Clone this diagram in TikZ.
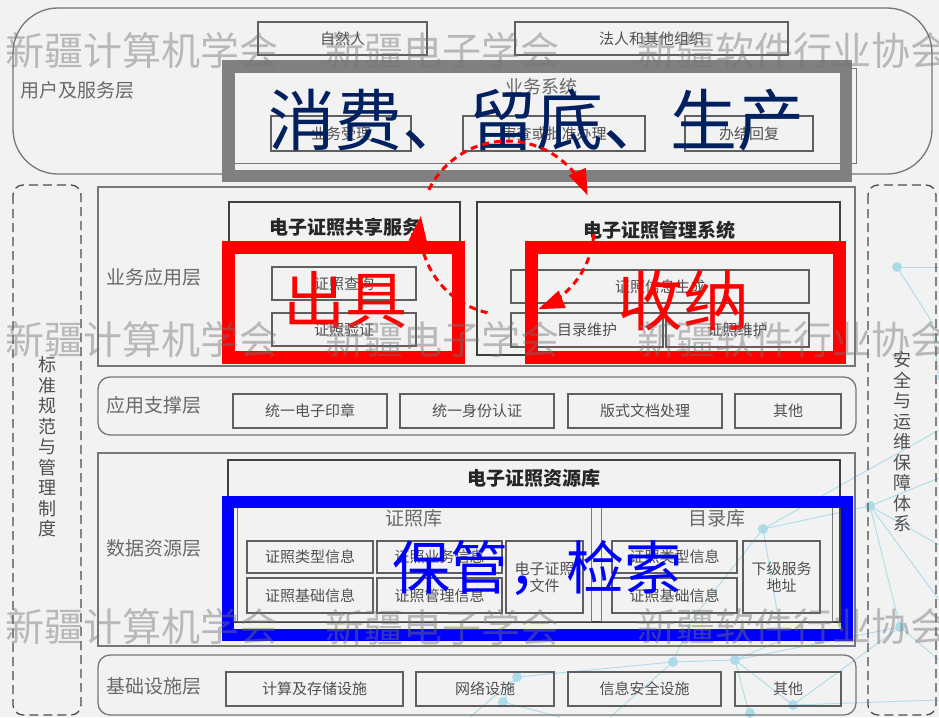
\documentclass[tikz,border=0pt]{standalone}
\usepackage{fontspec}
\setmainfont{Noto Sans CJK SC}
\usetikzlibrary{arrows.meta}
\definecolor{bg}{RGB}{242,242,242}
\definecolor{netc}{RGB}{172,219,233}
\definecolor{navy}{RGB}{0,32,96}
\definecolor{framegray}{RGB}{128,128,128}
\definecolor{boxline}{RGB}{95,95,95}
\definecolor{boxtext}{RGB}{80,80,80}
\definecolor{lbltext}{RGB}{105,105,105}
\tikzset{
  sbox/.style={draw=boxline, line width=1.3pt, inner sep=0pt, text=boxtext, font=\fontsize{15}{17}\selectfont, align=center},
  cont/.style={draw=boxline!85, line width=1.3pt},
  thickbox/.style={draw=black!75, line width=2.6pt},
  lbl/.style={text=lbltext, font=\fontsize{19}{21}\selectfont, anchor=west, inner sep=0pt},
  ttl/.style={text=black!85, font=\fontsize{19}{21}\selectfont\bfseries, inner sep=0pt},
  vlbl/.style={text=boxtext, font=\fontsize{18}{20.5}\selectfont, align=center, inner sep=0pt},
  dashbox/.style={draw=black!70, line width=1.3pt, dash pattern=on 9pt off 5pt, rounded corners=10pt},
  redframe/.style={draw=red, line width=13pt},
  redarrow/.style={draw=red, line width=3pt, dash pattern=on 7pt off 5pt, -{Triangle[length=26pt,width=18pt]}},
  wm/.style={text=black!55, opacity=0.45, font=\fontsize{39}{41}\selectfont, anchor=west, inner sep=0pt},
  netline/.style={draw=netc, line width=0.9pt},
  netdot/.style={fill=netc, draw=none},
}
\begin{document}
\begin{tikzpicture}[x=1pt,y=-1pt]
\useasboundingbox[fill=bg] (0,0) rectangle (939,717);

% faint network background
\foreach \a/\b in {{(897,267)}/{(939,267)}, {(897,267)}/{(932,322)}, {(932,322)}/{(939,380)},
  {(870,506)}/{(763,529)}, {(870,506)}/{(939,478)}, {(870,506)}/{(939,545)}, {(870,506)}/{(939,600)},
  {(763,529)}/{(690,622)}, {(763,529)}/{(782,640)}, {(763,529)}/{(939,430)},
  {(900,627)}/{(870,506)}, {(900,627)}/{(793,705)}, {(900,627)}/{(939,660)}, {(900,627)}/{(735,660)},
  {(735,660)}/{(673,662)}, {(735,660)}/{(793,705)}, {(735,660)}/{(750,717)},
  {(673,662)}/{(517,677)}, {(673,662)}/{(610,717)}, {(517,677)}/{(503,702)}, {(517,677)}/{(470,717)},
  {(503,702)}/{(560,717)}, {(793,705)}/{(939,700)}, {(673,662)}/{(690,622)}, {(782,640)}/{(735,660)}}
  \draw[netline] \a -- \b;
\foreach \p in {(897,267),(870,506),(763,529),(900,627),(735,660),(673,662),(517,677),(503,702),(793,705),(750,713)}
  \fill[netdot] \p circle (5pt);

% user & service layer
\draw[cont, rounded corners=45pt] (13,8) rectangle (932,174);
\node[lbl] (lUser) at (20,90) {用户及服务层};
\node[sbox, minimum width=169pt, minimum height=33pt] (natural) at (342.5,38.5) {自然人};
\node[sbox, minimum width=273pt, minimum height=33pt] (legal) at (651.5,38.5) {法人和其他组织};
\draw[cont, line width=1pt] (232,68) rectangle (856,163);
\node[text=lbltext, font=\fontsize{18}{20}\selectfont, inner sep=0pt] (bizsys) at (541,87) {业务系统};
\node[sbox, minimum width=140pt, minimum height=35pt] (accept) at (341,133.5) {业务受理};
\node[sbox, minimum width=182pt, minimum height=35pt] (review) at (554,133.5) {审查或批准办理};
\node[sbox, minimum width=128pt, minimum height=35pt] (reply) at (749,133.5) {办结回复};
\draw[draw=framegray, line width=12.5pt] (228.5,66.5) rectangle (846,176);

% side dashed boxes
\draw[dashbox] (13,185) rectangle (81,715);
\node[vlbl] (lStd) at (47,447) {标\\准\\规\\范\\与\\管\\理\\制\\度};
\draw[dashbox] (868,185) rectangle (936,715);
\node[vlbl] (lSec) at (902,442) {安\\全\\与\\运\\维\\保\\障\\体\\系};

% business application layer
\draw[cont] (98,187) rectangle (855,366);
\node[lbl] (lApp) at (106,277) {业务应用层};
\draw[thickbox] (229,202) rectangle (460,356);
\node[ttl] (tShare) at (345,227) {电子证照共享服务};
\node[sbox, minimum width=144pt, minimum height=33pt] (query) at (344,283.5) {证照查询};
\node[sbox, minimum width=144pt, minimum height=33pt] (verify) at (344,329.5) {证照验证};
\draw[thickbox] (477,202) rectangle (840,355);
\node[ttl] (tMgmt) at (659,230) {电子证照管理系统};
\node[sbox, minimum width=298pt, minimum height=33pt] (gen) at (660,286.5) {证照信息生成};
\node[sbox, minimum width=152pt, minimum height=34pt] (catm) at (587,330) {目录维护};
\node[sbox, minimum width=143pt, minimum height=34pt] (licm) at (737.5,330) {证照维护};

% application support layer
\draw[cont, rounded corners=12pt] (98,377) rectangle (856,435);
\node[lbl] (lSup) at (106,405) {应用支撑层};
\node[sbox, minimum width=154pt, minimum height=34pt] (seal) at (310,411) {统一电子印章};
\node[sbox, minimum width=154pt, minimum height=34pt] (auth) at (477,411) {统一身份认证};
\node[sbox, minimum width=154pt, minimum height=34pt] (doc) at (645,411) {版式文档处理};
\node[sbox, minimum width=106pt, minimum height=34pt] (other1) at (788,411) {其他};

% data resource layer
\draw[cont] (98,453) rectangle (855,646);
\node[lbl] (lData) at (106,548) {数据资源层};
\draw[thickbox] (228,460) rectangle (840,622);
\node[ttl] (tRes) at (534,478) {电子证照资源库};
\draw[cont, line width=1pt] (237,505) rectangle (591,621);
\draw[cont, line width=1pt] (601,505) rectangle (832,621);
\node[text=lbltext, font=\fontsize{19}{21}\selectfont, inner sep=0pt] (libA) at (414,518) {证照库};
\node[text=lbltext, font=\fontsize{19}{21}\selectfont, inner sep=0pt] (libB) at (717,518) {目录库};
\node[sbox, minimum width=126pt, minimum height=32pt] (d1) at (310,557) {证照类型信息};
\node[sbox, minimum width=125pt, minimum height=32pt] (d2) at (439.5,557) {证照业务信息};
\node[sbox, minimum width=126pt, minimum height=35pt] (d3) at (310,595.5) {证照基础信息};
\node[sbox, minimum width=125pt, minimum height=35pt] (d4) at (439.5,595.5) {证照管理信息};
\node[sbox, minimum width=77pt, minimum height=72pt] (d5) at (544.5,577) {电子证照\\文件};
\node[sbox, minimum width=125pt, minimum height=32pt] (e1) at (674.5,557) {证照类型信息};
\node[sbox, minimum width=125pt, minimum height=35pt] (e2) at (674.5,595.5) {证照基础信息};
\node[sbox, minimum width=77pt, minimum height=72pt] (e3) at (781.5,577) {下级服务\\地址};

% infrastructure layer
\draw[cont, rounded corners=12pt] (98,655) rectangle (856,715);
\node[lbl] (lInf) at (106,686) {基础设施层};
\node[sbox, minimum width=177pt, minimum height=34pt] (comp) at (314.5,689) {计算及存储设施};
\node[sbox, minimum width=138pt, minimum height=34pt] (net) at (485,689) {网络设施};
\node[sbox, minimum width=153pt, minimum height=34pt] (isec) at (644.5,689) {信息安全设施};
\node[sbox, minimum width=106pt, minimum height=34pt] (other2) at (788,689) {其他};

% highlight frames
\draw[redframe] (228.5,247) rectangle (458.5,357);
\draw[redframe] (531,247) rectangle (839,357);
\draw[draw=blue, line width=12pt] (228,502) rectangle (847,635);

% big texts
\node[text=navy, font=\fontsize{67}{70}\selectfont, inner sep=0pt] (bigTop) at (536.5,120) {消费、留底、生产};
\node[text=red, font=\fontsize{62}{64}\selectfont, inner sep=0pt] (bigIssue) at (345,300) {出具};
\node[text=red, font=\fontsize{66}{68}\selectfont, inner sep=0pt] (bigRecv) at (683,300) {收纳};
\node[text=blue, font=\fontsize{58}{60}\selectfont, inner sep=0pt] (bigKeep) at (537,568) {保管，检索};

% dashed cycle arrows
\draw[redarrow] plot[domain=103:188, samples=30] ({507+87*cos(\x)},{228+87*sin(\x)});
\draw[redarrow] plot[domain=206:338, samples=40] ({507+87*cos(\x)},{228+87*sin(\x)});
\draw[redarrow] plot[domain=4:69, samples=25] ({507+87*cos(\x)},{228+87*sin(\x)});

% watermark
\foreach \yy/\k in {51/1, 340/2, 627/3} {
  \node[wm] (wmA\k) at (5,\yy) {新疆计算机学会};
  \node[wm] (wmB\k) at (325,\yy) {新疆电子学会};
  \node[wm] (wmC\k) at (637,\yy) {新疆软件行业协会};
}
\end{tikzpicture}
\end{document}
